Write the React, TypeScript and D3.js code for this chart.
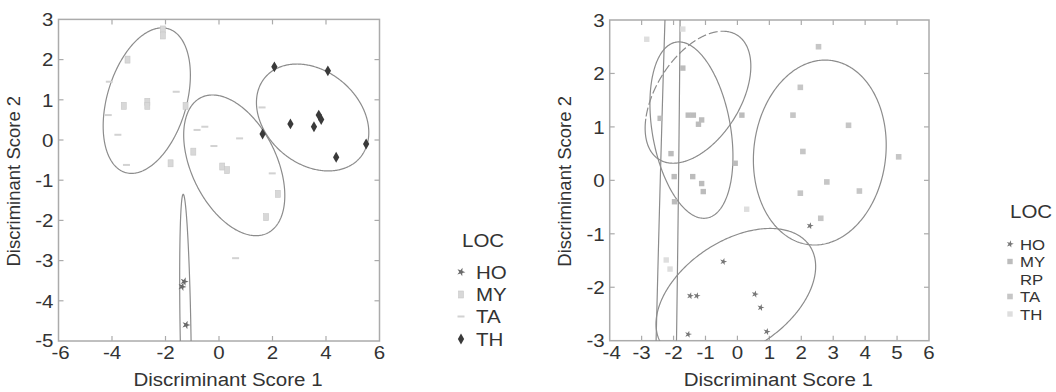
import React from "react";
import * as d3 from "d3";

// ---------- data ----------
const leftXTicks = [-6, -4, -2, 0, 2, 4, 6];
const leftYTicks = [-5, -4, -3, -2, -1, 0, 1, 2, 3];
const rightXTicks = [-4, -3, -2, -1, 0, 1, 2, 3, 4, 5, 6];
const rightYTicks = [-3, -2, -1, 0, 1, 2, 3];

const leftCategories = ["HO", "MY", "TA", "TH"];
const rightCategories = ["HO", "MY", "RP", "TA", "TH"];

// left panel points
const leftHO: [number, number][] = [[-1.3, -3.52], [-1.38, -3.65], [-1.23, -4.6]];
const leftMY: [number, number][] = [
  [-2.1, 2.75], [-2.1, 2.6], [-3.42, 2.0], [-3.56, 0.85], [-2.68, 0.95], [-2.68, 0.85],
  [-1.25, 0.85], [-1.81, -0.58], [-0.96, -0.29], [0.12, -0.66], [0.3, -0.75], [2.2, -1.34], [1.76, -1.92],
];
const leftTA: [number, number][] = [
  [-1.6, 1.2], [-4.14, 0.62], [-3.78, 0.13], [-3.46, -0.62], [-4.1, 1.45], [-0.82, 0.25], [-0.53, 0.33],
  [-0.19, -0.15], [0.77, 0.04], [1.99, -0.83], [0.62, -2.94], [1.61, 0.81],
];
const leftTH: [number, number][] = [
  [2.07, 1.82], [4.07, 1.72], [2.67, 0.4], [3.55, 0.33], [3.73, 0.62], [3.82, 0.51], [1.63, 0.15],
  [5.5, -0.1], [4.38, -0.43],
];

// right panel points
const rightHO: [number, number][] = [
  [-0.44, -1.52], [-1.48, -2.16], [-1.27, -2.16], [0.55, -2.13], [0.73, -2.38], [-1.54, -2.88],
  [0.92, -2.83], [2.27, -0.85],
];
const rightMY: [number, number][] = [
  [-1.54, 1.22], [-1.38, 1.22], [-1.22, 1.05], [-1.12, 1.13], [-1.98, 0.07], [-1.4, 0.07],
  [-1.12, -0.06], [-1.07, -0.21], [-1.97, -0.4], [0.14, 1.22], [-0.07, 0.32], [-1.71, 2.1],
  [-2.42, 1.16], [-2.08, 0.5],
];
const rightTA: [number, number][] = [
  [2.54, 2.5], [1.74, 1.22], [1.97, 1.74], [3.48, 1.03], [2.05, 0.54], [5.05, 0.44], [2.8, -0.03],
  [3.82, -0.2], [1.97, -0.24], [2.61, -0.71],
];
const rightTH: [number, number][] = [
  [-2.84, 2.64], [-1.71, 2.83], [-2.23, -1.49], [-2.11, -1.66], [0.29, -0.54],
];

// ellipses: centre, half-extents, correlation
type Ell = { cx: number; cy: number; hx: number; hy: number; rho: number; dashed?: boolean };
const leftEllipses: Ell[] = [
  { cx: -2.7, cy: 0.98, hx: 1.63, hy: 1.81, rho: 0.35 },
  { cx: 0.57, cy: -0.63, hx: 1.89, hy: 1.75, rho: -0.43 },
  { cx: 3.5, cy: 0.56, hx: 2.1, hy: 1.33, rho: -0.28 },
  { cx: -1.25, cy: -4.8, hx: 0.22, hy: 3.45, rho: -0.4 },
];
const rightEllipses: Ell[] = [
  { cx: -2.52, cy: -12, hx: 0.742, hy: 20, rho: 0.876 },
  { cx: -1.44, cy: 0.94, hx: 1.3, hy: 1.65, rho: -0.3 },
  { cx: -1.235, cy: 1.555, hx: 1.655, hy: 1.235, rho: 0.47, dashed: true },
  { cx: 2.58, cy: 0.52, hx: 2.08, hy: 1.73, rho: 0.08 },
  { cx: -0.05, cy: -2.15, hx: 2.5, hy: 1.25, rho: 0.43 },
];

// ---------- drawing ----------
const FONT = "'Liberation Sans', Arial, Helvetica, sans-serif";
const TXT = "#333";
const SX = 1.08;

function T(props: { x: number; y: number; anchor?: string; size?: number; children: any; dy?: string }) {
  const { x, y, anchor = "start", size = 19, children, dy } = props;
  return (
    <text
      transform={`translate(${x},${y}) scale(${SX},1)`}
      textAnchor={anchor}
      fontSize={size}
      fontFamily={FONT}
      fill={TXT}
      dy={dy}
    >
      {children}
    </text>
  );
}

function ellipsePoints(e: Ell, xs: any, ys: any, a0: number, a1: number) {
  const phi = Math.acos(e.rho);
  return d3.range(0, 361).map((i) => {
    const t = a0 + (i / 360) * (a1 - a0);
    return [xs(e.cx + e.hx * Math.cos(t)), ys(e.cy + e.hy * Math.cos(t - phi))] as [number, number];
  });
}

type Panel = {
  id: string;
  xs: any;
  ys: any;
  xTicks: number[];
  yTicks: number[];
  ellipses: Ell[];
};

function EllipseMark({ e, xs, ys }: { e: Ell; xs: any; ys: any }) {
  const line = d3.line();
  if (!e.dashed) {
    return <path d={line(ellipsePoints(e, xs, ys, 0, Math.PI * 2)) as string} fill="none" stroke="#8c8c8c" strokeWidth={1.2} />;
  }
  // upper-left arc drawn dashed, the rest solid
  const phi = Math.acos(e.rho);
  const s0 = phi - 0.15;
  const s1 = Math.PI * 0.95;
  return (
    <g>
      <path d={line(ellipsePoints(e, xs, ys, s0, s1)) as string} fill="none" stroke="#8c8c8c" strokeWidth={1.2} strokeDasharray="9,3" />
      <path d={line(ellipsePoints(e, xs, ys, s1, s0 + Math.PI * 2)) as string} fill="none" stroke="#8c8c8c" strokeWidth={1.2} />
    </g>
  );
}

function Frame({ p }: { p: Panel }) {
  const [x0, x1] = p.xs.range();
  const [y0, y1] = p.ys.range(); // y0 bottom, y1 top
  const tl = 5;
  const innerX = p.xTicks.slice(1, -1);
  const innerY = p.yTicks.slice(1, -1);
  const frameCol = "#ababab";
  return (
    <g>
      <defs>
        <clipPath id={`clip-${p.id}`}>
          <rect x={x0} y={y1} width={x1 - x0} height={y0 - y1} />
        </clipPath>
      </defs>
      <rect x={x0} y={y1} width={x1 - x0} height={y0 - y1} fill="none" stroke={frameCol} strokeWidth={1.5} />
      {innerX.map((v) => (
        <g key={`xt${v}`}>
          <line x1={p.xs(v)} x2={p.xs(v)} y1={y0} y2={y0 - tl} stroke={frameCol} strokeWidth={1.2} />
          <line x1={p.xs(v)} x2={p.xs(v)} y1={y1} y2={y1 + tl} stroke={frameCol} strokeWidth={1.2} />
        </g>
      ))}
      {innerY.map((v) => (
        <g key={`yt${v}`}>
          <line x1={x0} x2={x0 + tl} y1={p.ys(v)} y2={p.ys(v)} stroke={frameCol} strokeWidth={1.2} />
          <line x1={x1} x2={x1 - tl} y1={p.ys(v)} y2={p.ys(v)} stroke={frameCol} strokeWidth={1.2} />
        </g>
      ))}
      {p.xTicks.map((v) => (
        <T key={`xl${v}`} x={p.xs(v) + (v === p.xTicks[0] ? 2 : 0)} y={y0 + 18} anchor="middle">
          {String(v)}
        </T>
      ))}
      {p.yTicks.map((v) => (
        <T key={`yl${v}`} x={x0 - 5} y={p.ys(v) - (v === p.yTicks[0] ? 1 : 0)} anchor="end" dy="0.36em">
          {String(v)}
        </T>
      ))}
      <T x={(x0 + x1) / 2 + 9} y={y0 + 45} anchor="middle">
        Discriminant Score 1
      </T>
      <text
        transform={`translate(${x0 - 39},${(y0 + y1) / 2 + 1}) rotate(-90)`}
        textAnchor="middle"
        fontSize={18.5}
        fontFamily={FONT}
        fill={TXT}
      >
        Discriminant Score 2
      </text>
      <g clipPath={`url(#clip-${p.id})`}>
        {p.ellipses.map((e, i) => (
          <EllipseMark key={i} e={e} xs={p.xs} ys={p.ys} />
        ))}
      </g>
    </g>
  );
}

const starPath = d3.symbol().type(d3.symbolStar).size(22)() as string;
const starSmall = d3.symbol().type(d3.symbolStar).size(16)() as string;
const diamondPath = d3.symbol().type(d3.symbolDiamond).size(34)() as string;

function LeftMarker({ cat, x, y }: { cat: string; x: number; y: number }) {
  if (cat === "HO") return <path d={starPath} transform={`translate(${x},${y}) rotate(20)`} fill="#6a6a6a" />;
  if (cat === "MY")
    return <rect x={x - 2.5} y={y - 3.5} width={5} height={7} fill="#d8d8d8" stroke="#c8c8c8" strokeWidth={0.6} />;
  if (cat === "TA") return <rect x={x - 3.5} y={y - 1} width={7} height={2} fill="#d2d2d2" />;
  return <path d={diamondPath} transform={`translate(${x},${y})`} fill="#3a3a3a" />;
}

function RightMarker({ cat, x, y }: { cat: string; x: number; y: number }) {
  if (cat === "HO") return <path d={starSmall} transform={`translate(${x},${y}) rotate(15)`} fill="#777" />;
  if (cat === "MY") return <rect x={x - 2.7} y={y - 2.7} width={5.4} height={5.4} fill="#bcbcbc" />;
  if (cat === "TA") return <rect x={x - 2.8} y={y - 2.8} width={5.6} height={5.6} fill="#c6c6c6" />;
  if (cat === "TH") return <rect x={x - 2.7} y={y - 2.7} width={5.4} height={5.4} fill="#dedede" />;
  return null;
}

export default function App() {
  const left: Panel = {
    id: "L",
    xs: d3.scaleLinear().domain([-6, 6]).range([58.5, 379.5]),
    ys: d3.scaleLinear().domain([-5, 3]).range([341, 19.4]),
    xTicks: leftXTicks,
    yTicks: leftYTicks,
    ellipses: leftEllipses,
  };
  const right: Panel = {
    id: "R",
    xs: d3.scaleLinear().domain([-4, 6]).range([609.7, 929]),
    ys: d3.scaleLinear().domain([-3, 3]).range([340.7, 20]),
    xTicks: rightXTicks,
    yTicks: rightYTicks,
    ellipses: rightEllipses,
  };

  const leftSeries: [string, [number, number][]][] = [
    ["MY", leftMY],
    ["TA", leftTA],
    ["HO", leftHO],
    ["TH", leftTH],
  ];
  const rightSeries: [string, [number, number][]][] = [
    ["TH", rightTH],
    ["TA", rightTA],
    ["MY", rightMY],
    ["HO", rightHO],
  ];

  const leftLegendY = [272, 294.5, 316.5, 339];
  const rightLegendY = [244, 261.5, 279, 296.5, 314];

  return (
    <svg width={1056} height={392} style={{ position: "absolute", left: 0, top: 0, background: "#fff" }}>
      <rect x={0} y={0} width={1056} height={392} fill="#fff" />
      <Frame p={left} />
      <Frame p={right} />
      <g clipPath="url(#clip-L)">
        {leftSeries.map(([cat, pts]) =>
          pts.map((d, i) => <LeftMarker key={cat + i} cat={cat} x={left.xs(d[0])} y={left.ys(d[1])} />)
        )}
      </g>
      <g clipPath="url(#clip-R)">
        {rightSeries.map(([cat, pts]) =>
          pts.map((d, i) => <RightMarker key={cat + i} cat={cat} x={right.xs(d[0])} y={right.ys(d[1])} />)
        )}
      </g>
      {/* left legend */}
      <T x={462} y={240} dy="0.36em">LOC</T>
      {leftCategories.map((c, i) => (
        <g key={c}>
          <LeftMarker cat={c} x={461} y={leftLegendY[i]} />
          <T x={476} y={leftLegendY[i]} dy="0.36em">{c}</T>
        </g>
      ))}
      {/* right legend */}
      <T x={1010} y={211} dy="0.36em">LOC</T>
      {rightCategories.map((c, i) => (
        <g key={c}>
          <RightMarker cat={c} x={1010} y={rightLegendY[i]} />
          <T x={1020} y={rightLegendY[i]} size={15.5} dy="0.36em">{c}</T>
        </g>
      ))}
    </svg>
  );
}
